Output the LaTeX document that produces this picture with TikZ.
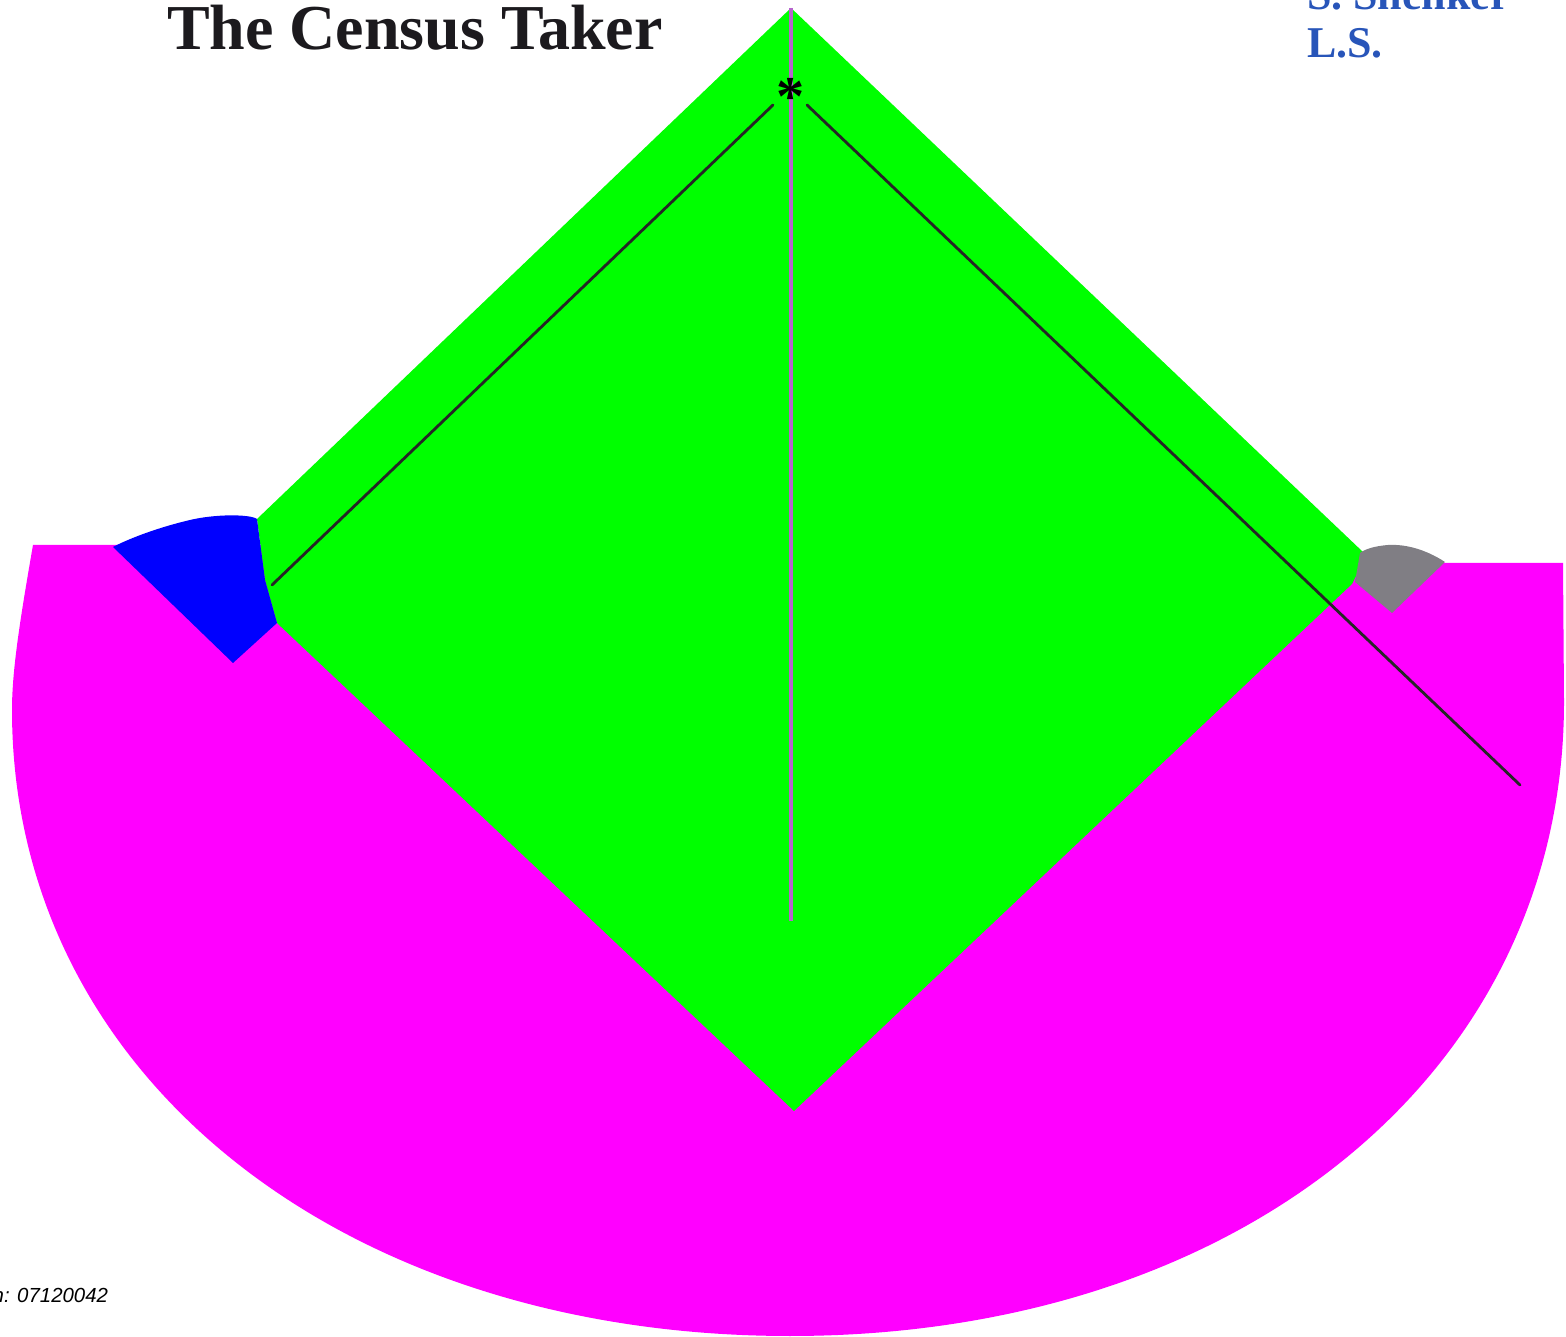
\documentclass[tikz,border=0pt]{standalone}
\usepackage{fontspec}
\setmainfont{Liberation Serif}
\newfontfamily\codefont{Liberation Sans}
\definecolor{pgreen}{RGB}{0,255,0}
\definecolor{pmag}{RGB}{255,0,255}
\definecolor{pblue}{RGB}{0,0,255}
\definecolor{pgray}{RGB}{128,126,132}
\definecolor{pviolet}{RGB}{182,100,205}
\definecolor{pauth}{RGB}{40,85,185}
\definecolor{ptitle}{RGB}{28,26,30}
\tikzset{
  region/.style={draw=none},
  ray/.style={draw=black!85, line width=0.8pt, line cap=round},
  axisline/.style={draw=pviolet, line width=1.4pt},
  txt/.style={inner sep=0pt, outer sep=0pt}
}
\begin{document}
\begin{tikzpicture}[x=0.01cm,y=-0.01cm]
\useasboundingbox (0,0) rectangle (1566,1337);
% magenta region
\fill[region, pmag] (33,545) -- (700,545) -- (700,563) -- (1563,563) -- (1564,700)
  .. controls (1565,1073) and (1240,1336) .. (790,1336)
  .. controls (339,1336) and (12,1073) .. (12,710)
  .. controls (12,670) and (20,620) .. (33,545) -- cycle;
% green diamond
\fill[region, pgreen] (791,8) -- (257,519) -- (265,580) -- (277,623) -- (794,1111)
  -- (1352,584) -- (1361,566) -- (1363,552) -- cycle;
% blue sector
\fill[region, pblue] (113,547) -- (233,663) -- (277,623) -- (265,580) -- (257,519)
  .. controls (250,514) and (215,514) .. (190,520)
  .. controls (160,527) and (130,538) .. (113,547) -- cycle;
% gray sector
\fill[region, pgray] (1355,582) -- (1392,613) -- (1445,562)
  .. controls (1425,549) and (1405,544) .. (1388,545)
  .. controls (1375,546) and (1365,549) .. (1360,553) -- cycle;
% lines
\coordinate (apex) at (791,8);
\coordinate (vbot) at (791,921);
\coordinate (lstart) at (773,105);
\coordinate (lend) at (272,585);
\coordinate (rstart) at (807,105);
\coordinate (rend) at (1520,785);
\draw[axisline] (apex) -- (vbot);
\node[txt, anchor=base, font=\fontsize{16}{16}\selectfont\bfseries] (star) at (791,116) {*};
\draw[ray] (lstart) -- (lend);
\draw[ray] (rstart) -- (rend);
% texts
\node[txt, anchor=base west, text=ptitle, font=\fontsize{18.2}{20}\selectfont\bfseries] (title) at (167,50) {The Census Taker};
\node[txt, anchor=base west, text=pauth, font=\fontsize{12.5}{14}\selectfont\bfseries] (auth1) at (1307,10) {S. Shenker};
\node[txt, anchor=base west, text=pauth, font=\fontsize{12.5}{14}\selectfont\bfseries] (auth2) at (1307,58) {L.S.};
\node[txt, anchor=base east, font=\codefont\itshape\fontsize{5.8}{7}\selectfont] (code) at (108,1302) {n: 07120042};
\end{tikzpicture}
\end{document}
